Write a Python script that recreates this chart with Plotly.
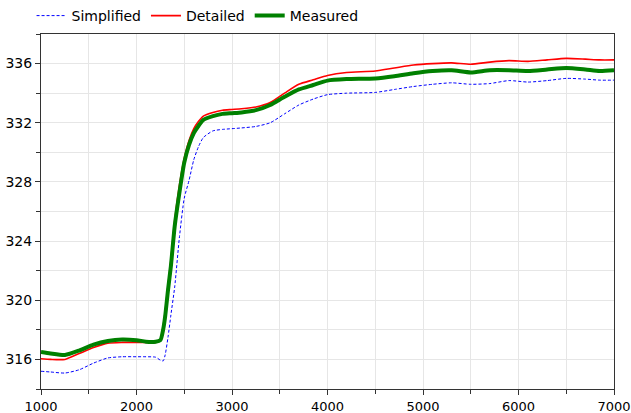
import plotly.graph_objects as go

time = [1000, 1100, 1250, 1400, 1550, 1700, 1850, 2000, 2100, 2200, 2250, 2280, 2300, 2330, 2360,
        2400, 2450, 2500, 2550, 2600, 2650, 2700, 2800, 2900, 3000, 3100, 3250, 3400, 3550, 3700,
        3850, 4000, 4200, 4500, 4700, 4900, 5100, 5300, 5500, 5700, 5900, 6100, 6300, 6500, 6700,
        6850, 7000]

simplified = [315.2, 315.15, 315.08, 315.3, 315.75, 316.1, 316.18, 316.18, 316.18, 316.15, 315.95,
              315.9, 316.3, 317.5, 319.0, 320.9, 324.3, 326.9, 328.1, 329.5, 330.4, 331.0, 331.45,
              331.55, 331.6, 331.65, 331.75, 332.0, 332.6, 333.2, 333.6, 333.9, 334.0, 334.05,
              334.25, 334.45, 334.6, 334.7, 334.6, 334.65, 334.85, 334.75, 334.85, 335.0, 334.95,
              334.88, 334.88]

detailed = [316.04, 316.0, 316.0, 316.4, 316.8, 317.1, 317.15, 317.15, 317.15, 317.15, 317.35,
            318.3, 319.2, 321.0, 322.7, 325.4, 327.8, 329.6, 330.8, 331.6, 332.1, 332.45, 332.7,
            332.85, 332.9, 332.95, 333.07, 333.37, 334.0, 334.6, 334.9, 335.2, 335.4, 335.5,
            335.7, 335.9, 336.0, 336.05, 335.95, 336.1, 336.2, 336.15, 336.25, 336.35, 336.3,
            336.25, 336.25]

measured = [316.5, 316.4, 316.3, 316.6, 317.0, 317.25, 317.35, 317.3, 317.2, 317.2, 317.3,
            318.05, 318.9, 320.7, 322.3, 325.0, 327.3, 329.3, 330.5, 331.3, 331.8, 332.2, 332.45,
            332.6, 332.65, 332.7, 332.85, 333.2, 333.75, 334.25, 334.55, 334.85, 334.95, 335.0,
            335.15, 335.35, 335.5, 335.55, 335.4, 335.55, 335.55, 335.5, 335.6, 335.7, 335.6,
            335.5, 335.55]

FONT = "DejaVu Sans, Verdana, sans-serif"

fig = go.Figure()
fig.add_trace(go.Scatter(x=time, y=simplified, mode="lines", name="Simplified",
                         line=dict(color="#0000FF", width=1, dash="3px,2px", shape="spline", smoothing=0.6)))
fig.add_trace(go.Scatter(x=time, y=detailed, mode="lines", name="Detailed",
                         line=dict(color="#FF0000", width=1.6, shape="spline", smoothing=0.6)))
fig.add_trace(go.Scatter(x=time, y=measured, mode="lines", name="Measured",
                         line=dict(color="#008000", width=4, shape="spline", smoothing=0.6)))

axis_common = dict(showline=True, linecolor="#333333", linewidth=1, mirror=True,
                   ticks="outside", ticklen=5, tickcolor="#333333", automargin=False,
                   showgrid=True, gridcolor="#E6E6E6", gridwidth=1, zeroline=False)

fig.update_xaxes(range=[1000, 7000], tick0=1000, dtick=1000,
                 tickfont=dict(family=FONT, size=13, color="#000000"),
                 minor=dict(dtick=500, ticks="outside", ticklen=4, tickcolor="#333333",
                            showgrid=True, gridcolor="#E6E6E6"),
                 **axis_common)
fig.update_yaxes(range=[314, 338], tick0=316, dtick=4,
                 tickfont=dict(family=FONT, size=14, color="#000000"),
                 minor=dict(dtick=2, ticks="outside", ticklen=4, tickcolor="#333333",
                            showgrid=True, gridcolor="#E6E6E6"),
                 **axis_common)

fig.update_layout(
    width=631, height=413,
    margin=dict(l=41, r=17, t=34, b=24, autoexpand=False),
    paper_bgcolor="white", plot_bgcolor="white",
    showlegend=True,
    legend=dict(orientation="h", xref="container", yref="container",
                x=0.05, xanchor="left", y=1.0, yanchor="top", itemwidth=30,
                font=dict(family=FONT, size=14, color="#000000"),
                tracegroupgap=0, bgcolor="rgba(0,0,0,0)"),
)

fig.write_html("out.html")
